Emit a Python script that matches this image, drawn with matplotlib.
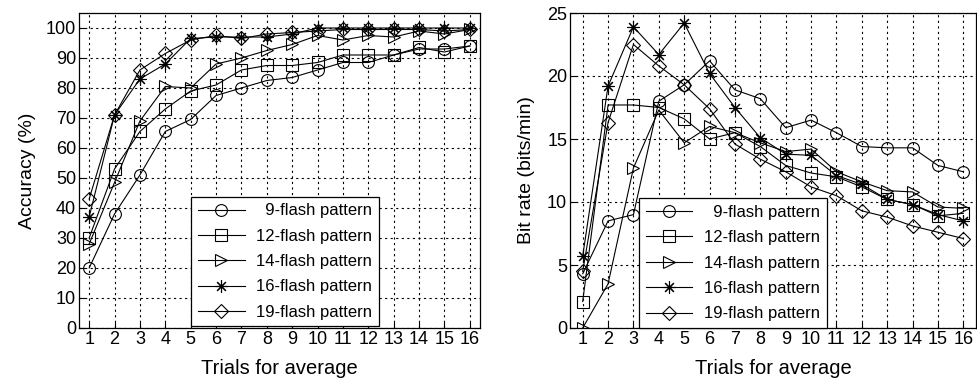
import numpy as np
import matplotlib.pyplot as plt

plt.rcParams['font.family'] = ['Liberation Sans', 'DejaVu Sans']

trials = list(range(1, 17))
labels = ['  9-flash pattern', '12-flash pattern', '14-flash pattern',
          '16-flash pattern', '19-flash pattern']
markers = ['o', 's', '>', (8, 2, 0), 'D']

# accuracy (%)
acc_9 = [20, 38, 51, 65.5, 69.5, 77.5, 80, 82.5, 83.5, 86, 88.5, 88.5, 91, 93, 93, 94]
acc_12 = [30, 53, 65.5, 73, 79, 81, 86, 87.5, 87.5, 88.5, 91, 91, 91, 93.5, 92, 94]
acc_14 = [28, 48.5, 69, 80.5, 80, 88, 90, 92.5, 94.5, 97.5, 96, 97.5, 97, 99, 98, 99.5]
acc_16 = [37, 71, 83, 88, 96.5, 97, 97, 97, 98, 100, 100, 100, 100, 100, 100, 100]
acc_19 = [43, 71, 86, 91.5, 96, 97.5, 96.5, 98, 98.5, 99, 99.5, 99.5, 99.5, 99.5, 99, 99.5]

# bit rate (bits/min)
br_9 = [4.3, 8.5, 9.0, 18.0, 19.3, 21.2, 18.9, 18.2, 15.9, 16.5, 15.5, 14.4, 14.3, 14.3, 12.9, 12.4]
br_12 = [2.1, 17.7, 17.7, 17.5, 16.6, 15.0, 15.5, 14.4, 12.9, 12.3, 12.0, 11.2, 10.2, 9.8, 8.9, 9.1]
br_14 = [0, 3.5, 12.7, 17.3, 14.7, 16.0, 15.5, 14.7, 14.0, 14.2, 12.4, 11.6, 10.9, 10.8, 9.6, 9.5]
br_16 = [5.7, 19.2, 23.9, 21.7, 24.2, 20.2, 17.5, 15.1, 13.8, 13.7, 12.1, 11.4, 10.2, 9.8, 9.0, 8.5]
br_19 = [4.5, 16.3, 22.5, 20.8, 19.3, 17.4, 14.6, 13.4, 12.4, 11.2, 10.5, 9.3, 8.8, 8.1, 7.6, 7.1]

acc = [acc_9, acc_12, acc_14, acc_16, acc_19]
br = [br_9, br_12, br_14, br_16, br_19]

fig = plt.figure(figsize=(9.77, 3.83), dpi=100)
W, H = 977, 383
ax1 = fig.add_axes([79 / W, 55 / H, 401 / W, 315 / H])
ax2 = fig.add_axes([570 / W, 55 / H, 406 / W, 315 / H])


def draw(ax, data, ylim, yticks, ylabel, xlim, legend_loc, ylpad):
    for d, m, lab in zip(data, markers, labels):
        ms = 9 if m == markers[3] else (7 if m == 'D' else 8.5)
        ax.plot(trials, d, color='black', linewidth=0.8, marker=m, markersize=ms,
                markerfacecolor='none', markeredgecolor='black', markeredgewidth=0.8,
                label=lab)
    ax.set_xlim(*xlim)
    ax.set_ylim(*ylim)
    ax.set_xticks(trials)
    ax.set_yticks(yticks)
    ax.grid(True, color='black', linestyle=(0, (2, 3)), linewidth=0.8)
    ax.tick_params(direction='in', labelsize=13, length=4, pad=2)
    ax.set_xlabel('Trials for average', fontsize=14.5, labelpad=8)
    ax.set_ylabel(ylabel, fontsize=14, labelpad=ylpad)
    for s in ax.spines.values():
        s.set_linewidth(0.9)
    leg = ax.legend(loc=legend_loc, fontsize=12, handlelength=2.8,
                    fancybox=False, edgecolor='black', framealpha=1,
                    borderpad=0.4, labelspacing=0.62, handletextpad=0.7,
                    borderaxespad=0.15)
    leg.get_frame().set_linewidth(0.9)
    return leg


draw(ax1, acc, (0, 105), range(0, 101, 10), 'Accuracy (%)', (0.6, 16.4),
     (0.28, 0.005), 7)
draw(ax2, br, (0, 25), range(0, 26, 5), 'Bit rate (bits/min)', (0.5, 16.5),
     (0.17, 0.0), 9)

fig.savefig('out.png', dpi=100)
